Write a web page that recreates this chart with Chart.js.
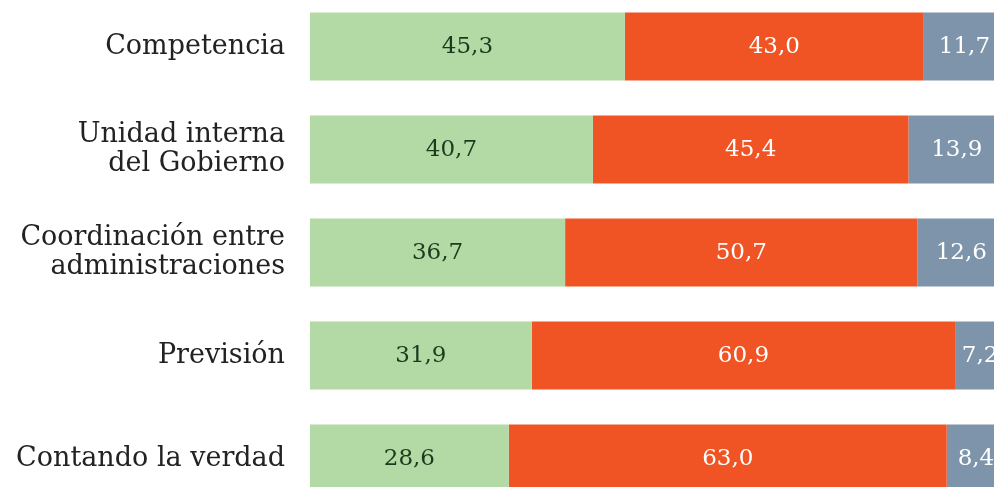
<!DOCTYPE html>
<html>
<head>
<meta charset="utf-8">
<script src="https://cdn.jsdelivr.net/npm/chart.js@4/dist/chart.umd.min.js"></script>
<style>
	html, body { margin: 0; padding: 0; background: #ffffff; overflow: hidden; }
	#wrap { position: absolute; left: 0; top: -5px; width: 994px; height: 515px; }
</style>
</head>
<body>
<div id="wrap"><canvas id="chart"></canvas></div>
<script>
	'use strict';

	var categories = [
		'Competencia',
		['Unidad interna', 'del Gobierno'],
		['Coordinación entre', 'administraciones'],
		'Previsión',
		'Contando la verdad'
	];
	var greenValues = [45.3, 40.7, 36.7, 31.9, 28.6];
	var redValues = [43.0, 45.4, 50.7, 60.9, 63.0];
	var grayValues = [11.7, 13.9, 12.6, 7.2, 8.4];

	var labelColors = ['#1e3a1e', '#ffffff', '#ffffff'];

	// Value labels centred in each segment, Spanish decimal comma.
	var segmentLabels = {
		id: 'segmentLabels',
		afterDatasetsDraw: function (chart) {
			var ctx = chart.ctx;
			ctx.save();
			ctx.font = '23px "DejaVu Serif"';
			ctx.textAlign = 'center';
			ctx.textBaseline = 'middle';
			chart.data.datasets.forEach(function (ds, di) {
				var meta = chart.getDatasetMeta(di);
				ctx.fillStyle = labelColors[di];
				meta.data.forEach(function (bar, i) {
					var cx = (bar.x + bar.base) / 2;
					ctx.fillText(ds.data[i].toFixed(1).replace('.', ','), cx, bar.y + 1);
				});
			});
			ctx.restore();
		}
	};

	new Chart(document.getElementById('chart').getContext('2d'), {
		type: 'bar',
		data: {
			labels: categories,
			datasets: [
				{ label: 'A', data: greenValues, backgroundColor: '#b3d9a5' },
				{ label: 'B', data: redValues, backgroundColor: '#f15424' },
				{ label: 'C', data: grayValues, backgroundColor: '#7e94aa' }
			]
		},
		options: {
			indexAxis: 'y',
			responsive: true,
			maintainAspectRatio: false,
			animation: false,
			layout: { padding: 0 },
			barPercentage: 0.66,
			categoryPercentage: 1,
			plugins: {
				legend: { display: false },
				tooltip: { enabled: false }
			},
			scales: {
				x: {
					stacked: true,
					min: 0,
					max: 98.4,
					display: false
				},
				y: {
					stacked: true,
					grid: { display: false, drawTicks: false },
					border: { display: false },
					ticks: {
						color: '#222222',
						padding: 25,
						font: { family: '"DejaVu Serif"', size: 27, lineHeight: 1.1 }
					},
					afterFit: function (scale) {
						scale.width = 310;
						scale.paddingTop = 0;
						scale.paddingBottom = 0;
					}
				}
			}
		},
		plugins: [segmentLabels]
	});
</script>
</body>
</html>
